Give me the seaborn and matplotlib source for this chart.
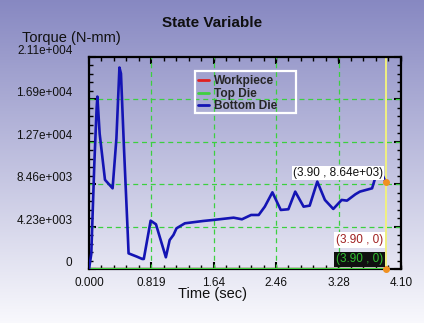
import numpy as np
import pandas as pd
import matplotlib
matplotlib.use("Agg")
import matplotlib.pyplot as plt
import seaborn as sns
from matplotlib.ticker import FixedLocator, AutoMinorLocator
from matplotlib.patches import Rectangle

# ---- data ----
time_bottom = [0.00, 0.03, 0.07, 0.10, 0.11, 0.14, 0.21, 0.31, 0.36, 0.40, 0.42, 0.46,
               0.51, 0.52, 0.63, 0.70, 0.72, 0.81, 0.88, 1.01, 1.06, 1.11, 1.15, 1.26,
               1.50, 1.63, 1.90, 2.01, 2.13, 2.23, 2.31, 2.41, 2.52, 2.62, 2.71, 2.82,
               2.90, 3.00, 3.10, 3.21, 3.32, 3.39, 3.50, 3.56, 3.72, 3.78, 3.82, 3.90]
torque_bottom = [0, 1500, 10500, 16000, 17200, 13500, 8900, 8050, 13000, 20100, 19500, 12000,
                 3400, 1560, 1230, 1000, 1000, 4820, 4460, 1170, 2890, 3400, 4060, 4560,
                 4790, 4890, 5120, 4960, 5390, 5390, 6220, 7650, 5890, 5960, 7720, 6220,
                 6320, 8720, 6890, 5990, 6890, 6820, 7450, 7720, 8050, 9550, 10000, 8640]
time_zero = [0.0, 3.90]
torque_workpiece = [0, 0]
torque_topdie = [0, 0]

x_ticks = [0.0, 0.819, 1.64, 2.46, 3.28, 4.10]
x_tick_labels = ["0.000", "0.819", "1.64", "2.46", "3.28", "4.10"]
y_ticks = [0, 4230, 8460, 12690, 16920, 21150]
y_tick_labels = ["0", "4.23e+003", "8.46e+003", "1.27e+004", "1.69e+004", "2.11e+004"]

cursor_time = 3.90
cursor_bottom = 8640
ann_bottom = "(3.90 , 8.64e+03)"
ann_zero = "(3.90 , 0)"

# ---- style ----
sns.set_theme(style="white")
plt.rcParams["font.family"] = ["Liberation Sans", "DejaVu Sans"]

W, H = 424, 323
fig = plt.figure(figsize=(W / 100, H / 100), dpi=100)

# gradient background
bg = fig.add_axes([0, 0, 1, 1], zorder=-10)
top = np.array([0.53, 0.535, 0.76])
bot = np.array([0.975, 0.975, 0.99])
t = np.linspace(0, 1, 256)[:, None]
grad = top[None, :] * (1 - t) + bot[None, :] * t
bg.imshow(grad[:, None, :], aspect="auto", extent=[0, 1, 0, 1])
bg.set_axis_off()

L, R, T, B = 89, 401, 57, 269
ax = fig.add_axes([L / W, 1 - B / H, (R - L) / W, (B - T) / H])
ax.set_facecolor("none")

df_b = pd.DataFrame({"t": time_bottom, "v": torque_bottom})
df_w = pd.DataFrame({"t": time_zero, "v": torque_workpiece})
df_d = pd.DataFrame({"t": time_zero, "v": torque_topdie})

sns.lineplot(data=df_w, x="t", y="v", ax=ax, color="#e02020", linewidth=1.6,
             label="Workpiece", estimator=None, sort=False, zorder=3)
sns.lineplot(data=df_d, x="t", y="v", ax=ax, color="#40d040", linewidth=1.6,
             label="Top Die", estimator=None, sort=False, zorder=3)
sns.lineplot(data=df_b, x="t", y="v", ax=ax, color="#1414b4", linewidth=1.9,
             label="Bottom Die", estimator=None, sort=False, zorder=4)

ax.set_xlim(0, 4.10)
ax.set_ylim(0, 21150)
ax.set_xlabel("")
ax.set_ylabel("")

ax.xaxis.set_major_locator(FixedLocator(x_ticks))
ax.yaxis.set_major_locator(FixedLocator(y_ticks))
ax.set_xticklabels(x_tick_labels)
ax.set_yticklabels(y_tick_labels)
ax.xaxis.set_minor_locator(AutoMinorLocator(5))
ax.yaxis.set_minor_locator(AutoMinorLocator(5))
ax.tick_params(which="both", direction="in", top=True, right=True, left=True, bottom=True,
               color="black")
ax.tick_params(which="major", length=5, width=1.5)
ax.tick_params(which="minor", length=3, width=1)
ax.tick_params(axis="y", which="major", pad=12, labelsize=8.5, labelcolor="#111111")
ax.tick_params(axis="x", which="major", pad=6, labelsize=8.5, labelcolor="#111111")
for lab in ax.get_yticklabels():
    lab.set_verticalalignment("bottom")

for s in ax.spines.values():
    s.set_color("black")
    s.set_linewidth(1.6)

# grid
for xv in x_ticks[1:-1]:
    ax.axvline(xv, color="#3cd040", lw=0.9, ls=(0, (4, 3)), zorder=1)
for yv in y_ticks[1:-1]:
    ax.axhline(yv, color="#3cd040", lw=0.9, ls=(0, (4, 3)), zorder=1)

# cursor line and markers
ax.axvline(cursor_time, color="#f0f080", lw=1.4, zorder=2)
ax.plot([cursor_time, cursor_time], [cursor_bottom, 0], ls="none", marker="o",
        ms=4, color="#f09020", zorder=6, clip_on=False)

tx = 3.865
ax.text(tx, 9550, ann_bottom, ha="right", va="center", fontsize=8.5, color="#101010",
        bbox=dict(boxstyle="square,pad=0.1", fc="white", ec="none"), zorder=7)
ax.text(tx, 2890, ann_zero, ha="right", va="center", fontsize=8.5, color="#a02020",
        bbox=dict(boxstyle="square,pad=0.15", fc="white", ec="none"), zorder=7)
ax.text(tx, 950, ann_zero, ha="right", va="center", fontsize=8.5, color="#30c030",
        bbox=dict(boxstyle="square,pad=0.15", fc="#101010", ec="none"), zorder=7)

leg = ax.legend(loc="upper left", bbox_to_anchor=(197 / W, 1 - 74.5 / H),
                bbox_transform=fig.transFigure, borderaxespad=0, frameon=False,
                handlelength=0.95, handletextpad=0.4, labelspacing=0.05,
                borderpad=0.05, prop={"weight": "bold", "size": 8.6})
for h in leg.get_lines():
    h.set_linewidth(2)
fig.patches.append(Rectangle((195 / W, 1 - 113 / H), 101 / W, 42 / H,
                             transform=fig.transFigure, fill=False,
                             edgecolor="white", linewidth=1.6, zorder=8))

fig.text(212 / W, 1 - 23 / H, "State Variable", ha="center", va="center",
         fontsize=11, fontweight="bold", color="#101010")
fig.text(22 / W, 1 - 38 / H, "Torque (N-mm)", ha="left", va="center",
         fontsize=10.5, color="#101010")
fig.text(212 / W, 1 - 294 / H, "Time (sec)", ha="center", va="center",
         fontsize=10.5, color="#101010")

fig.savefig("out.png", dpi=100)
